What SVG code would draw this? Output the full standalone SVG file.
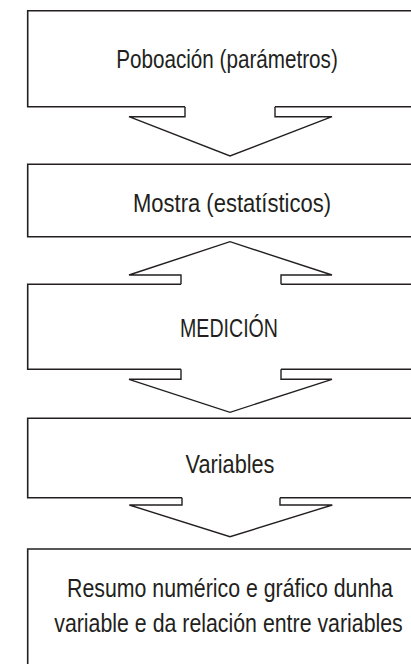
<svg xmlns="http://www.w3.org/2000/svg" width="411" height="664" viewBox="0 0 411 664">
<style>
.box{fill:none;stroke:#231f20;stroke-width:1.6;stroke-linejoin:miter}
.arr{fill:none;stroke:#231f20;stroke-width:1.4;stroke-linejoin:miter}
.t{font-family:"Liberation Sans",Arial,sans-serif;font-size:26.5px;fill:#231f20;text-anchor:middle}
</style>
<rect width="411" height="664" fill="#ffffff"/>
<g id="node-poboacion">
<path class="box" d="M440,106.7 H275 M185,106.7 H27.7 V10.7 H440"/>
<text class="t" transform="translate(227,68.3) scale(0.78,1)">Poboación (parámetros)</text>
</g>
<g id="node-mostra">
<path class="box" d="M440,164.3 H27.7 V236.7 H440"/>
<text class="t" transform="translate(232,212) scale(0.83,1)">Mostra (estatísticos)</text>
</g>
<g id="node-medicion">
<path class="box" d="M440,284.3 H281 M181,284.3 H27.7 V369.3 H181 M281,369.3 H440"/>
<text class="t" transform="translate(229,337) scale(0.74,1)">MEDICIÓN</text>
</g>
<g id="node-variables">
<path class="box" d="M440,418.3 H27.7 V497.7 H182 M280,497.7 H440"/>
<text class="t" transform="translate(230,472.5) scale(0.82,1)">Variables</text>
</g>
<g id="node-resumo">
<path class="box" d="M440,549 H27.7 V670"/>
<text class="t" transform="translate(230,597) scale(0.805,1)">Resumo numérico e gráfico dunha</text>
<text class="t" transform="translate(228.5,632) scale(0.805,1)">variable e da relación entre variables</text>
</g>
<g id="connectors">
<path class="arr" d="M185,106.7 V116.7 H129 L230,156 L332,116.7 H275 V106.7"/>
<path class="arr" d="M181,284.3 V275 H129 L230,241.7 L332,275 H281 V284.3"/>
<path class="arr" d="M181,369.3 V379.3 H129 L230,412.3 L332,379.3 H281 V369.3"/>
<path class="arr" d="M182,497.7 V505 H129.3 L230,536.7 L332.3,505 H280 V497.7"/>
</g>
</svg>
